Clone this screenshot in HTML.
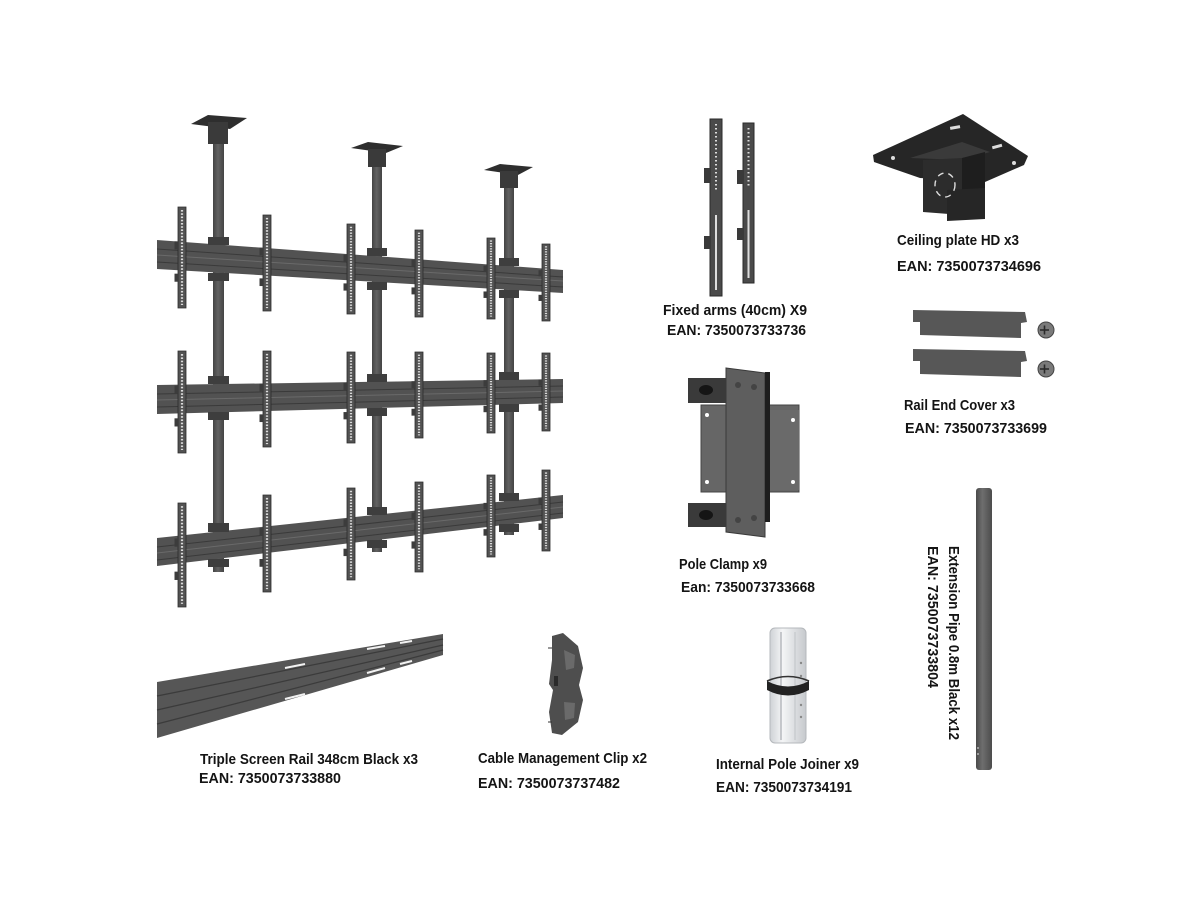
<!DOCTYPE html>
<html><head><meta charset="utf-8"><style>
html,body{margin:0;padding:0;background:#fff;}
svg{display:block;}
text{font-family:"Liberation Sans",sans-serif;font-weight:bold;font-size:15px;fill:#141414;}
</style></head><body>
<svg width="1200" height="900" viewBox="0 0 1200 900" xmlns="http://www.w3.org/2000/svg">
<defs>
  <g id="arm">
    <rect x="0" y="0" width="8" height="100" fill="#525252" stroke="#2c2c2c" stroke-width="0.8" vector-effect="non-scaling-stroke"/>
    <line x1="4" y1="3" x2="4" y2="97" stroke="#d9d9d9" stroke-width="2.2" stroke-dasharray="1.6 1.6"/>
    <rect x="-3.5" y="34" width="3.5" height="8" fill="#3c3c3c"/>
    <rect x="-3.5" y="66" width="3.5" height="8" fill="#3c3c3c"/>
  </g>
  <linearGradient id="pipe" x1="0" x2="1" y1="0" y2="0">
    <stop offset="0" stop-color="#4a4a4a"/><stop offset="0.4" stop-color="#6e6e6e"/><stop offset="1" stop-color="#4c4c4c"/>
  </linearGradient>
  <linearGradient id="pole" x1="0" x2="1" y1="0" y2="0">
    <stop offset="0" stop-color="#444"/><stop offset="0.45" stop-color="#626262"/><stop offset="1" stop-color="#444"/>
  </linearGradient>
  <linearGradient id="joiner" x1="0" x2="1" y1="0" y2="0">
    <stop offset="0" stop-color="#cfd2d6"/><stop offset="0.35" stop-color="#f4f5f6"/><stop offset="1" stop-color="#c6c9cd"/>
  </linearGradient>
</defs>

<!-- ===== Main assembly ===== -->
<rect x="213" y="128" width="11" height="444" fill="url(#pole)"/>
<rect x="372" y="150" width="10" height="402" fill="url(#pole)"/>
<rect x="504" y="172" width="10" height="363" fill="url(#pole)"/>
<polygon points="191,124 208,115 247,118 230,129" fill="#2e2e2e"/>
<rect x="208" y="122" width="20" height="22" fill="#3a3a3a"/>
<polygon points="351,148 368,142 403,146 386,153" fill="#2e2e2e"/>
<rect x="368" y="149" width="18" height="18" fill="#3a3a3a"/>
<polygon points="484,170 500,164 533,167 518,175" fill="#2e2e2e"/>
<rect x="500" y="171" width="18" height="17" fill="#3a3a3a"/>

<g>
  <polygon points="157,240 563,270 563,293 157,269" fill="#525252"/>
  <line x1="157" y1="249" x2="563" y2="277" stroke="#3a3a3a" stroke-width="1"/>
  <line x1="157" y1="255" x2="563" y2="281" stroke="#6a6a6a" stroke-width="1"/>
  <line x1="157" y1="262" x2="563" y2="287" stroke="#3a3a3a" stroke-width="1"/>
  <polygon points="157,385 563,379 563,403 157,414" fill="#525252"/>
  <line x1="157" y1="394" x2="563" y2="386" stroke="#3a3a3a" stroke-width="1"/>
  <line x1="157" y1="400" x2="563" y2="391" stroke="#6a6a6a" stroke-width="1"/>
  <line x1="157" y1="407" x2="563" y2="397" stroke="#3a3a3a" stroke-width="1"/>
  <polygon points="157,538 563,495 563,518 157,566" fill="#525252"/>
  <line x1="157" y1="547" x2="563" y2="502" stroke="#3a3a3a" stroke-width="1"/>
  <line x1="157" y1="553" x2="563" y2="507" stroke="#6a6a6a" stroke-width="1"/>
  <line x1="157" y1="560" x2="563" y2="513" stroke="#3a3a3a" stroke-width="1"/>
</g>
<g fill="#3e3e3e">
  <rect x="208" y="237" width="21" height="8"/><rect x="208" y="273" width="21" height="8"/>
  <rect x="367" y="248" width="20" height="8"/><rect x="367" y="282" width="20" height="8"/>
  <rect x="499" y="258" width="20" height="8"/><rect x="499" y="290" width="20" height="8"/>
  <rect x="208" y="376" width="21" height="8"/><rect x="208" y="412" width="21" height="8"/>
  <rect x="367" y="374" width="20" height="8"/><rect x="367" y="408" width="20" height="8"/>
  <rect x="499" y="372" width="20" height="8"/><rect x="499" y="404" width="20" height="8"/>
  <rect x="208" y="523" width="21" height="9"/><rect x="208" y="559" width="21" height="8"/>
  <rect x="367" y="507" width="20" height="8"/><rect x="367" y="540" width="20" height="8"/>
  <rect x="499" y="493" width="20" height="8"/><rect x="499" y="524" width="20" height="8"/>
</g>
<use href="#arm" transform="translate(178,207) scale(1,1.01)"/>
<use href="#arm" transform="translate(263,215) scale(1,0.96)"/>
<use href="#arm" transform="translate(347,224) scale(1,0.90)"/>
<use href="#arm" transform="translate(415,230) scale(1,0.87)"/>
<use href="#arm" transform="translate(487,238) scale(1,0.81)"/>
<use href="#arm" transform="translate(542,244) scale(1,0.77)"/>
<use href="#arm" transform="translate(178,351) scale(1,1.02)"/>
<use href="#arm" transform="translate(263,351) scale(1,0.96)"/>
<use href="#arm" transform="translate(347,352) scale(1,0.91)"/>
<use href="#arm" transform="translate(415,352) scale(1,0.86)"/>
<use href="#arm" transform="translate(487,353) scale(1,0.80)"/>
<use href="#arm" transform="translate(542,353) scale(1,0.78)"/>
<use href="#arm" transform="translate(178,503) scale(1,1.04)"/>
<use href="#arm" transform="translate(263,495) scale(1,0.97)"/>
<use href="#arm" transform="translate(347,488) scale(1,0.92)"/>
<use href="#arm" transform="translate(415,482) scale(1,0.90)"/>
<use href="#arm" transform="translate(487,475) scale(1,0.82)"/>
<use href="#arm" transform="translate(542,470) scale(1,0.81)"/>

<!-- ===== Fixed arms ===== -->
<g>
  <rect x="710" y="119" width="12" height="177" fill="#4a4a4a" stroke="#2a2a2a" stroke-width="1"/>
  <line x1="716" y1="124" x2="716" y2="190" stroke="#ddd" stroke-width="2" stroke-dasharray="1.5 2.5"/>
  <rect x="715" y="215" width="2" height="75" fill="#ddd"/>
  <rect x="704" y="168" width="6" height="15" fill="#3a3a3a"/>
  <rect x="704" y="236" width="6" height="13" fill="#3a3a3a"/>
  <rect x="743" y="123" width="11" height="160" fill="#4a4a4a" stroke="#2a2a2a" stroke-width="1"/>
  <line x1="748.5" y1="128" x2="748.5" y2="188" stroke="#ddd" stroke-width="2" stroke-dasharray="1.5 2.5"/>
  <rect x="747.5" y="210" width="2" height="68" fill="#ddd"/>
  <rect x="737" y="170" width="6" height="14" fill="#3a3a3a"/>
  <rect x="737" y="228" width="6" height="12" fill="#3a3a3a"/>
</g>
<text x="663" y="315" textLength="144" lengthAdjust="spacingAndGlyphs">Fixed arms (40cm) X9</text>
<text x="667" y="335" textLength="139" lengthAdjust="spacingAndGlyphs">EAN: 7350073733736</text>

<!-- ===== Ceiling plate HD ===== -->
<g>
  <polygon points="873,155 963,114 1028,156 1024,165 985,182 920,178 874,162" fill="#262626"/>
  <polygon points="910,158 962,142 990,152 962,160" fill="#3a3a3a"/>
  <polygon points="923,160 962,158 962,215 923,212" fill="#2c2c2c"/>
  <polygon points="962,158 985,152 985,208 962,214" fill="#1e1e1e"/>
  <polygon points="947,190 985,188 985,219 947,221" fill="#262626"/>
  <ellipse cx="945" cy="185" rx="10" ry="12" fill="none" stroke="#dcdcdc" stroke-width="1.4" stroke-dasharray="6 5"/>
  <rect x="950" y="126" width="10" height="3" fill="#ddd" transform="rotate(-10 955 127)"/>
  <rect x="992" y="145" width="10" height="3" fill="#ddd" transform="rotate(-15 997 146)"/>
  <circle cx="893" cy="158" r="2" fill="#ddd"/>
  <circle cx="1014" cy="163" r="2" fill="#ddd"/>
</g>
<text x="897" y="245" textLength="122" lengthAdjust="spacingAndGlyphs">Ceiling plate HD x3</text>
<text x="897" y="271" textLength="144" lengthAdjust="spacingAndGlyphs">EAN: 7350073734696</text>

<!-- ===== Rail end covers ===== -->
<g fill="#575757">
  <polygon points="913,310 1025,312 1027,322 1021,323 1021,338 920,335 920,322 913,322"/>
  <polygon points="913,349 1025,351 1027,361 1021,362 1021,377 920,374 920,361 913,361"/>
</g>
<g fill="#7a7a7a" stroke="#444" stroke-width="1">
  <circle cx="1046" cy="330" r="8"/>
  <circle cx="1046" cy="369" r="8"/>
</g>
<g stroke="#2a2a2a" stroke-width="1.6">
  <line x1="1040" y1="330" x2="1049" y2="330"/><line x1="1044.5" y1="325.5" x2="1044.5" y2="334.5"/>
  <line x1="1040" y1="369" x2="1049" y2="369"/><line x1="1044.5" y1="364.5" x2="1044.5" y2="373.5"/>
</g>
<text x="904" y="410" textLength="111" lengthAdjust="spacingAndGlyphs">Rail End Cover x3</text>
<text x="905" y="433" textLength="142" lengthAdjust="spacingAndGlyphs">EAN: 7350073733699</text>

<!-- ===== Pole clamp ===== -->
<g>
  <rect x="688" y="378" width="38" height="25" fill="#3a3a3a"/>
  <rect x="688" y="503" width="38" height="24" fill="#3a3a3a"/>
  <ellipse cx="706" cy="390" rx="7" ry="5" fill="#151515"/>
  <ellipse cx="706" cy="515" rx="7" ry="5" fill="#151515"/>
  <rect x="701" y="405" width="98" height="87" fill="#666" stroke="#444" stroke-width="1"/>
  <polygon points="726,368 765,373 765,537 726,532" fill="#5e5e5e" stroke="#3a3a3a" stroke-width="1"/>
  <rect x="765" y="372" width="5" height="150" fill="#1e1e1e"/>
  <rect x="770" y="410" width="29" height="80" fill="#6a6a6a"/>
  <circle cx="707" cy="415" r="2" fill="#fff"/><circle cx="707" cy="482" r="2" fill="#fff"/>
  <circle cx="793" cy="420" r="2" fill="#fff"/><circle cx="793" cy="482" r="2" fill="#fff"/>
  <circle cx="738" cy="385" r="3" fill="#444"/><circle cx="754" cy="387" r="3" fill="#444"/>
  <circle cx="738" cy="520" r="3" fill="#444"/><circle cx="754" cy="518" r="3" fill="#444"/>
</g>
<text x="679" y="569" textLength="88" lengthAdjust="spacingAndGlyphs">Pole Clamp x9</text>
<text x="681" y="592" textLength="134" lengthAdjust="spacingAndGlyphs">Ean: 7350073733668</text>

<!-- ===== Extension pipe ===== -->
<rect x="976" y="488" width="16" height="282" rx="3" fill="url(#pipe)"/>
<circle cx="978" cy="748" r="0.9" fill="#ccc"/><circle cx="978" cy="754" r="0.9" fill="#ccc"/>
<text transform="translate(949,546) rotate(90)" textLength="194" lengthAdjust="spacingAndGlyphs">Extension Pipe 0.8m Black x12</text>
<text transform="translate(928,546) rotate(90)" textLength="142" lengthAdjust="spacingAndGlyphs">EAN: 7350073733804</text>

<!-- ===== Internal pole joiner ===== -->
<g>
  <rect x="770" y="628" width="36" height="115" rx="5" fill="url(#joiner)" stroke="#b5b8bc" stroke-width="1"/>
  <line x1="781" y1="632" x2="781" y2="740" stroke="#a8abb0" stroke-width="1.2"/>
  <line x1="795" y1="632" x2="795" y2="740" stroke="#c0c3c7" stroke-width="1"/>
  <circle cx="801" cy="663" r="1.2" fill="#888"/><circle cx="801" cy="676" r="1.2" fill="#888"/>
  <circle cx="801" cy="705" r="1.2" fill="#888"/><circle cx="801" cy="717" r="1.2" fill="#888"/>
  <path d="M767,681 Q788,692 809,681 L809,690 Q788,701 767,690 Z" fill="#222"/>
  <path d="M767,681 Q788,672 809,681" fill="none" stroke="#333" stroke-width="1.5"/>
</g>
<text x="716" y="769" textLength="143" lengthAdjust="spacingAndGlyphs">Internal Pole Joiner x9</text>
<text x="716" y="792" textLength="136" lengthAdjust="spacingAndGlyphs">EAN: 7350073734191</text>

<!-- ===== Triple screen rail ===== -->
<g>
  <polygon points="157,682 443,634 443,655 157,738" fill="#565656"/>
  <line x1="157" y1="696" x2="443" y2="639" stroke="#3b3b3b" stroke-width="1.2"/>
  <line x1="157" y1="710" x2="443" y2="645" stroke="#3b3b3b" stroke-width="1.2"/>
  <line x1="157" y1="724" x2="443" y2="650" stroke="#3b3b3b" stroke-width="1.2"/>
  <line x1="285" y1="668" x2="305" y2="664" stroke="#f2f2f2" stroke-width="2"/>
  <line x1="367" y1="649" x2="385" y2="646" stroke="#f2f2f2" stroke-width="2"/>
  <line x1="400" y1="643" x2="412" y2="641" stroke="#f2f2f2" stroke-width="2"/>
  <line x1="285" y1="699" x2="305" y2="694" stroke="#f2f2f2" stroke-width="2"/>
  <line x1="367" y1="673" x2="385" y2="668" stroke="#f2f2f2" stroke-width="2"/>
  <line x1="400" y1="664" x2="412" y2="661" stroke="#f2f2f2" stroke-width="2"/>
</g>
<text x="200" y="764" textLength="218" lengthAdjust="spacingAndGlyphs">Triple Screen Rail 348cm Black x3</text>
<text x="199" y="783" textLength="142" lengthAdjust="spacingAndGlyphs">EAN: 7350073733880</text>

<!-- ===== Cable management clip ===== -->
<g>
  <path d="M552,636 L563,633 L578,646 L583,668 L579,685 L583,700 L578,722 L562,735 L552,733 L549,712 L553,690 L549,684 L552,660 Z" fill="#4e4e4e"/>
  <path d="M564,650 L575,655 L574,668 L566,670 Z" fill="#6a6a6a"/>
  <path d="M564,702 L575,703 L574,718 L565,720 Z" fill="#6a6a6a"/>
  <rect x="554" y="676" width="4" height="10" fill="#2a2a2a"/>
  <line x1="548" y1="648" x2="552" y2="648" stroke="#333"/>
  <line x1="548" y1="722" x2="552" y2="722" stroke="#333"/>
</g>
<text x="478" y="763" textLength="169" lengthAdjust="spacingAndGlyphs">Cable Management Clip x2</text>
<text x="478" y="788" textLength="142" lengthAdjust="spacingAndGlyphs">EAN: 7350073737482</text>
</svg>
</body></html>
